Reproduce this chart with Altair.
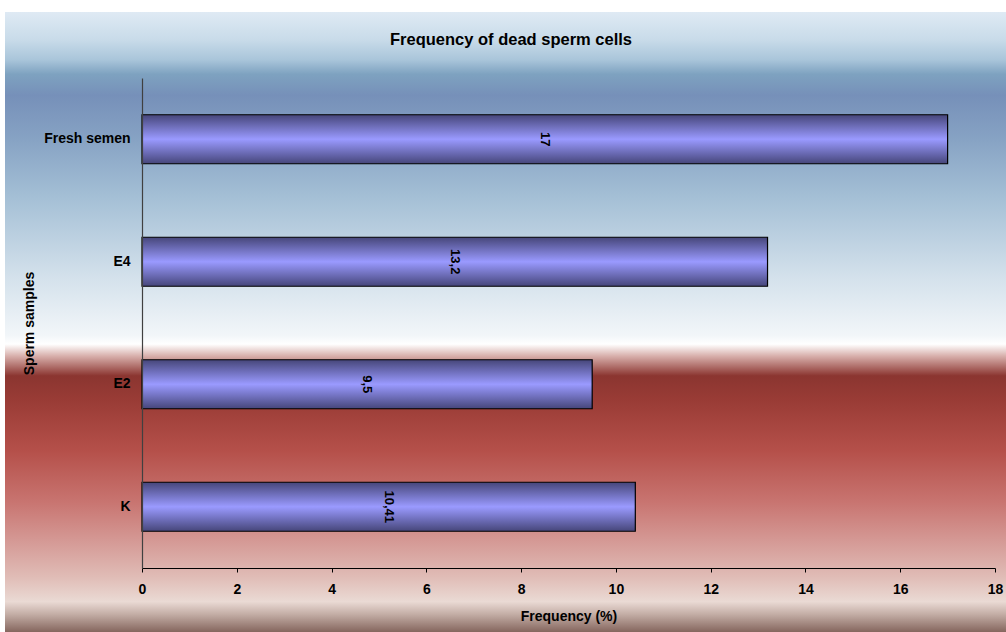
import altair as alt
import pandas as pd

samples = ["Fresh semen", "E4", "E2", "K"]
values = [17, 13.2, 9.5, 10.41]
labels = ["17", "13,2", "9,5", "10,41"]
title_text = "Frequency of dead sperm cells"

df = pd.DataFrame({"sample": samples, "value": values, "label": labels})

FONT = "Liberation Sans"

bg_stops = [
    (0.0, "#dfeaf4"), (0.045, "#c8dbe9"), (0.077, "#a9c5da"), (0.10, "#7ea2c0"),
    (0.134, "#7690b9"), (0.206, "#87a3c4"), (0.30, "#a5c0d6"), (0.43, "#d5e2ec"),
    (0.52, "#f2f6f9"), (0.534, "#ffffff"), (0.553, "#d8b0ac"), (0.585, "#8b3530"),
    (0.626, "#9a3c36"), (0.706, "#b5504a"), (0.787, "#c87470"), (0.852, "#d59a96"),
    (0.908, "#e0bcb6"), (0.948, "#eadad4"), (0.968, "#c4aea6"), (1.0, "#7e5e56"),
]
bg_grad = alt.LinearGradient(
    gradient="linear", x1=0, y1=0, x2=0, y2=1,
    stops=[alt.GradientStop(offset=o, color=c) for o, c in bg_stops],
)
bar_grad = alt.LinearGradient(
    gradient="linear", x1=0, y1=0, x2=0, y2=1,
    stops=[alt.GradientStop(offset=0, color="#46467a"),
           alt.GradientStop(offset=0.5, color="#9a9aff"),
           alt.GradientStop(offset=1, color="#46467a")],
)

W, H = 853, 490
L, T = 142, 78

background = alt.Chart(pd.DataFrame({"a": [0]})).mark_rect(fill=bg_grad).encode(
    x=alt.value(5 - L), x2=alt.value(1006 - L + 2),
    y=alt.value(12 - T), y2=alt.value(632 - T + 2),
)

title = alt.Chart(pd.DataFrame({"t": [title_text]})).mark_text(
    font=FONT, fontSize=16.5, fontWeight="bold", color="black",
    align="center", baseline="middle",
).encode(x=alt.value(511 - L), y=alt.value(40 - T), text="t:N")

ysc = alt.Scale(domain=samples, paddingInner=0.6, paddingOuter=0.3)
xsc = alt.Scale(domain=[0, 18], nice=False)

bars = alt.Chart(df).mark_bar(fill=bar_grad, stroke="black", strokeWidth=1.2).encode(
    y=alt.Y("sample:N", scale=ysc, sort=samples,
            axis=alt.Axis(title="Sperm samples", ticks=False, labelPadding=12,
                          titlePadding=7, domainColor="#404040", zindex=1)),
    x=alt.X("value:Q", scale=xsc,
            axis=alt.Axis(title="Frequency (%)", values=list(range(0, 19, 2)),
                          grid=False, tickSize=4, tickColor="black",
                          domainColor="black", labelPadding=10, titlePadding=13,
                          labelFlush=False, zindex=1)),
)

text = alt.Chart(df).transform_calculate(half="datum.value / 2").mark_text(
    angle=90, font=FONT, fontWeight="bold", fontSize=13, color="black",
    align="center", baseline="middle",
).encode(
    y=alt.Y("sample:N", scale=ysc, sort=samples),
    x=alt.X("half:Q", scale=xsc),
    text="label:N",
)

chart = alt.layer(background, title, bars, text).properties(
    width=W, height=H,
    autosize=alt.AutoSizeParams(type="none"),
    padding={"left": L, "top": T, "right": 1006 - L - W, "bottom": 632 - T - H},
    background="white",
).configure_view(stroke=None).configure_axis(
    labelFont=FONT, titleFont=FONT, labelFontSize=14, titleFontSize=14,
    labelFontWeight="bold", titleFontWeight="bold", labelColor="black",
    titleColor="black", domainWidth=1.2,
)

chart.save("out.html", embed_options={"renderer": "svg", "actions": False})
